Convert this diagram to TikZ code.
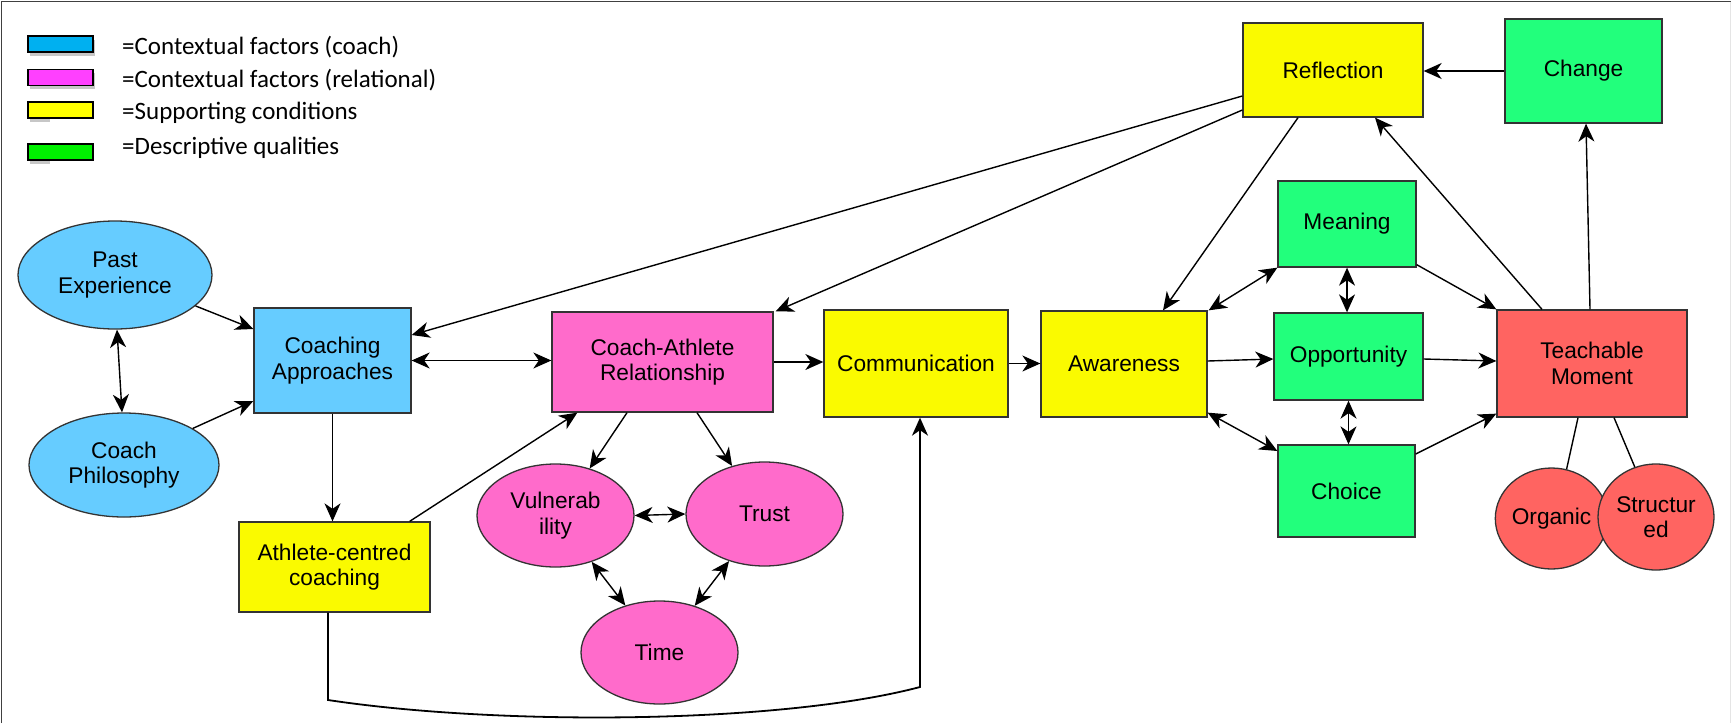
\documentclass[tikz,border=0pt]{standalone}
\usepackage{fontspec}
\setmainfont{Liberation Sans}
\newfontfamily\legendfont{Carlito}
\usetikzlibrary{shapes.geometric,arrows.meta,calc}
\definecolor{nblue}{HTML}{66CCFF}
\definecolor{npink}{HTML}{FF6BCB}
\definecolor{nyellow}{HTML}{FAFA00}
\definecolor{ngreen}{HTML}{22FF7C}
\definecolor{nred}{HTML}{FF6461}
\definecolor{lblue}{HTML}{00B0F0}
\definecolor{lmag}{HTML}{FF40FF}
\definecolor{lyellow}{HTML}{FFFF00}
\definecolor{lgreen}{HTML}{00F000}
\begin{document}
\begin{tikzpicture}[x=1pt,y=-1pt,
  box/.style={draw=black!80, line width=1.3pt, rectangle, inner sep=0pt, align=center,
              font=\fontsize{22.7}{25.5}\selectfont},
  ell/.style={box, ellipse},
  tip/.tip={Stealth[length=18pt,width=16pt,inset=5.5pt]},
  arr/.style={line width=1.4pt, -tip},
  darr/.style={line width=1.4pt, tip-tip},
  ln/.style={line width=1.4pt},
  legbox/.style={draw=black, line width=1.6pt, minimum width=65pt, minimum height=16pt, inner sep=0pt},
  legshadow/.style={fill=black!22, draw=none, minimum width=65pt, minimum height=16pt, inner sep=0pt},
  legtext/.style={anchor=base west, inner sep=0pt, font=\legendfont\fontsize{25}{28}\selectfont}]

\useasboundingbox (0,0) rectangle (1731,723);
\fill[white] (0,0) rectangle (1731,723);
% frame
\draw[black!75, line width=1.6pt] (1.5,723) -- (1.5,1.5) -- (1731,1.5);
\draw[black!10, line width=1pt] (1730,1.5) -- (1730,723);

% legend
\node[legshadow] (s1) at (62,48) {};
\node[legshadow] (s2) at (62,81) {};
\node[legshadow, minimum width=20pt] (s3) at (40,114) {};
\node[legshadow, minimum width=20pt] (s4) at (40,156) {};
\node[legbox, fill=lblue] (k1) at (60.5,44) {};
\node[legbox, fill=lmag] (k2) at (60.5,77.5) {};
\node[legbox, fill=lyellow] (k3) at (60.5,110) {};
\node[legbox, fill=lgreen] (k4) at (60.5,152) {};
\node[legtext] (t1) at (122,54) {=Contextual factors (coach)};
\node[legtext] (t2) at (122,87.3) {=Contextual factors (relational)};
\node[legtext] (t3) at (122,119.3) {=Supporting conditions};
\node[legtext] (t4) at (122,154.3) {=Descriptive qualities};

% nodes
\node[ell, fill=nblue, minimum width=194pt, minimum height=108pt] (pe) at (115,275) {Past\\Experience};
\node[ell, fill=nblue, minimum width=190pt, minimum height=104pt] (cp) at (124,465) {Coach\\Philosophy};
\node[box, fill=nblue, minimum width=157pt, minimum height=105pt] (ca) at (332.5,360.5) {Coaching\\Approaches};
\node[box, fill=nyellow, minimum width=191pt, minimum height=90pt] (acc) at (334.5,567) {Athlete-centred\\coaching};
\node[box, fill=npink, minimum width=221pt, minimum height=100pt] (car) at (662.5,362) {Coach-Athlete\\Relationship};
\node[box, fill=nyellow, minimum width=184pt, minimum height=107pt] (comm) at (916,363.5) {Communication};
\node[ell, fill=npink, minimum width=157pt, minimum height=103pt] (vul) at (555.5,515.5) {Vulnerab\\ility};
\node[ell, fill=npink, minimum width=157pt, minimum height=104pt] (tru) at (764.5,514) {Trust};
\node[ell, fill=npink, minimum width=157pt, minimum height=103pt] (tim) at (659.5,652.5) {Time};
\node[box, fill=nyellow, minimum width=166pt, minimum height=106pt] (aw) at (1124,364) {Awareness};
\node[box, fill=ngreen, minimum width=138pt, minimum height=86pt] (mea) at (1347,224) {Meaning};
\node[box, fill=ngreen, minimum width=149pt, minimum height=87pt] (opp) at (1348.5,356.5) {Opportunity};
\node[box, fill=ngreen, minimum width=137pt, minimum height=92pt] (cho) at (1346.5,491) {Choice};
\node[box, fill=nred, minimum width=190pt, minimum height=107pt] (tm) at (1592,363.5) {Teachable\\Moment};
\node[ell, fill=nred, minimum width=109pt, minimum height=101pt] (org) at (1551.5,518.5) {Organic};
\node[ell, fill=nred, minimum width=116pt, minimum height=106pt] (str) at (1656,517) {Structur\\ed};
\node[box, fill=nyellow, minimum width=180pt, minimum height=94pt] (ref) at (1333,70) {Reflection};
\node[box, fill=ngreen, minimum width=157pt, minimum height=104pt] (chg) at (1583.5,71) {Change};

% connectors (left)
\draw[arr] (pe.-21) -- ([yshift=31.5pt]ca.west);
\draw[arr] (cp.28) -- ([yshift=-40.5pt]ca.west);
\draw[darr] ([xshift=2pt]pe.south) -- ([xshift=-2pt]cp.north);
\draw[darr] (ca.east) -- (ca.east -| car.west);
\draw[arr] (ca.south) -- (ca.south |- acc.north);
\draw[arr] ([xshift=-21pt]acc.north east) -- ([xshift=26pt]car.south west);
\draw[arr] ([yshift=-26pt]ref.west) -- ([yshift=25.5pt]ca.east);
\draw[arr] ([yshift=-40pt]ref.west) -- ([xshift=2pt]car.north east);
\draw[arr] (car.east) -- (car.east -| comm.west);
\draw[arr] ([xshift=-35.5pt]car.south) -- (vul.54);
\draw[arr] ([xshift=34.5pt]car.south) -- (tru.124);
\draw[darr] (vul.east) -- (tru.west);
\draw[darr] (vul.-52) -- (tim.126);
\draw[darr] (tru.-127) -- (tim.53);
\coordinate (b1) at (328,700);
\coordinate (b2) at (920,687);
\draw[line width=1.8pt, -tip] ([xshift=-6.5pt]acc.south) -- (b1)
  .. controls (500,726) and (780,724) .. (b2) -- ([xshift=4pt]comm.south);

% connectors (right)
\draw[arr] (comm.east) -- (comm.east -| aw.west);
\draw[arr] ([yshift=3pt]aw.east) -- ([yshift=-2.5pt]opp.west);
\draw[arr] ([yshift=-2.5pt]opp.east) -- ([yshift=2.5pt]tm.west);
\draw[darr] ([yshift=5pt]aw.south east) -- ([yshift=40pt]cho.west);
\draw[darr] (opp.south) -- (opp.south |- cho.north);
\draw[arr] ([yshift=37pt]cho.east) -- ([yshift=4pt]tm.south west);
\draw[darr] (mea.south west) -- ([xshift=1pt]aw.north east);
\draw[darr] (mea.south) -- (mea.south |- opp.north);
\draw[arr] ([yshift=3pt]mea.south east) -- (tm.north west);
\draw[arr] ([xshift=-35pt]ref.south) -- ([xshift=39pt]aw.north);
\draw[arr] ([xshift=-50pt]tm.north) -- ([xshift=42pt]ref.south);
\draw[arr] ([xshift=-2pt]tm.north) -- ([xshift=2.5pt]chg.south);
\draw[arr] (chg.west) -- (chg.west -| ref.east);
\draw[ln] ([xshift=-14pt]tm.south) -- (org.73);
\draw[ln] ([xshift=22pt]tm.south) -- (str.113);
\end{tikzpicture}
\end{document}
